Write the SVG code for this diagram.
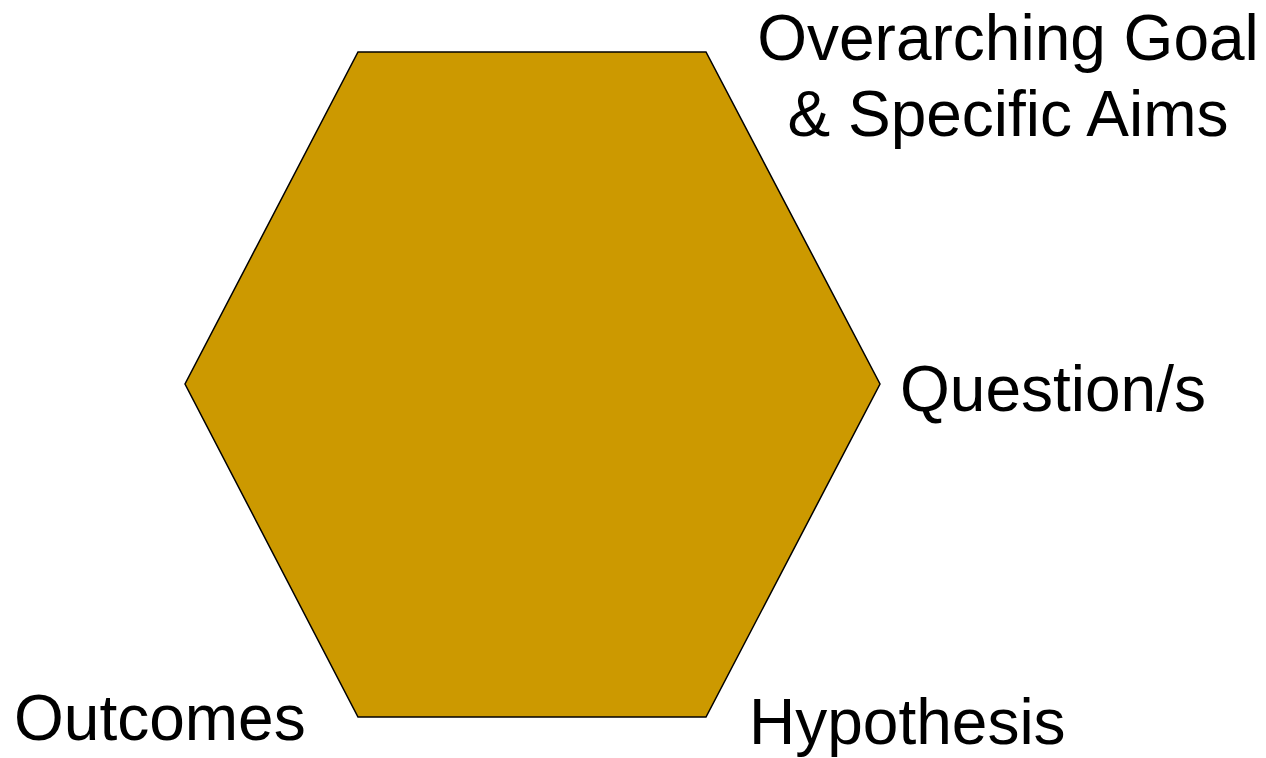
<svg xmlns="http://www.w3.org/2000/svg" width="1266" height="758" viewBox="0 0 1266 758">
<style>
.lbl{font-family:"Liberation Sans",Arial,sans-serif;font-size:64px;fill:#000}
</style>
<rect width="1266" height="758" fill="#fff"/>
<g id="hexagon">
<polygon points="358,52 706,52 880,384 706,717 358,717 185,384" fill="#CC9900" stroke="#000" stroke-width="1.5"/>
</g>
<g id="label-goal">
<text class="lbl" x="1008" y="60" text-anchor="middle">Overarching Goal</text>
<text class="lbl" x="1008" y="136" text-anchor="middle">&amp; Specific Aims</text>
</g>
<g id="label-question"><text class="lbl" x="900" y="411">Question/s</text></g>
<g id="label-hypothesis"><text class="lbl" x="749" y="744">Hypothesis</text></g>
<g id="label-outcomes"><text class="lbl" x="14" y="740">Outcomes</text></g>
<g id="connectors"></g>
</svg>
